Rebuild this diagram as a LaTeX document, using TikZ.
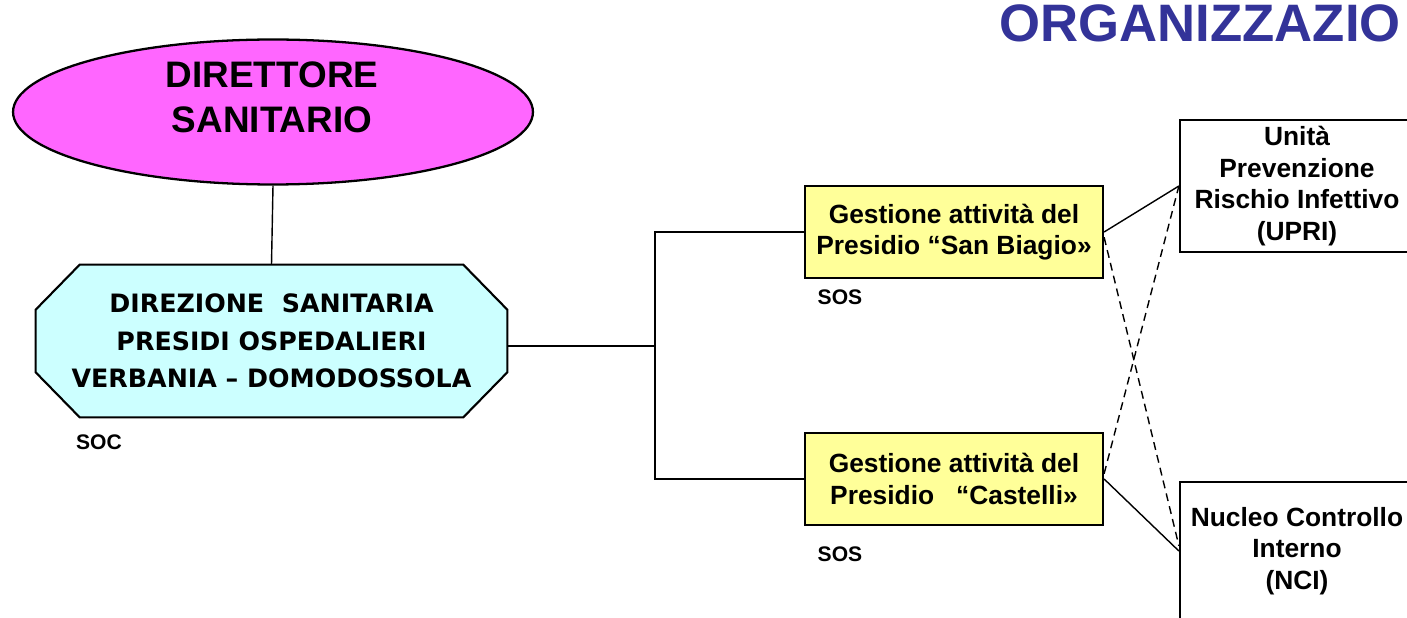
\documentclass[tikz,border=0pt]{standalone}
\usepackage{fontspec}
\setmainfont{Liberation Sans}
\newfontfamily\octfont{DejaVu Sans}
\usepackage{xcolor}
\usepackage{tikz}
\usetikzlibrary{shapes.geometric,arrows.meta,positioning,calc,backgrounds}

\definecolor{dirpink}{HTML}{FF66FF}
\definecolor{dircyan}{HTML}{CCFFFF}
\definecolor{sosyellow}{HTML}{FFFF99}
\definecolor{titleblue}{HTML}{333399}

\begin{document}
\begin{tikzpicture}[
  x=0.02cm, y=-0.02cm,
  ell/.style={ellipse, draw=black, line width=1.3pt, fill=dirpink,
              minimum width=10.4cm, minimum height=2.9cm},
  elltext/.style={align=center, font=\fontsize{21}{25.5}\selectfont\bfseries},
  oct/.style={rectangle, inner sep=0pt, minimum width=9.42cm, minimum height=3.04cm,
              align=center, font=\octfont\bfseries\fontsize{14.4}{21.3}\selectfont},
  octline/.style={draw=black, line width=1.2pt, fill=dircyan},
  sosbox/.style={rectangle, draw=black, line width=1.3pt, fill=sosyellow,
                 minimum width=5.96cm, minimum height=1.84cm, align=center,
                 font=\fontsize{15}{18}\selectfont\bfseries},
  unitbox/.style={rectangle, draw=black, line width=1.3pt, fill=white,
                  minimum width=4.68cm, align=center,
                  font=\fontsize{15}{18}\selectfont\bfseries},
  tag/.style={font=\fontsize{12}{14}\selectfont\bfseries},
  link/.style={line width=0.8pt},
  dlink/.style={line width=0.8pt, dash pattern=on 4.5pt off 3pt}
]
  \useasboundingbox (0,0) rectangle (1407,618);
  \clip (0,0) rectangle (1407,618);

  \node[anchor=base east, inner sep=0pt, text=titleblue,
        font=\fontsize{30}{36}\selectfont\bfseries] (title) at (1401,42) {ORGANIZZAZIO};

  \node[ell] (dirsan) at (273,112) {};
  \node[elltext] (dirsantxt) at (272,97) {DIRETTORE\\SANITARIO};

  \node[oct] (dirpo) at (271.5,341) {DIREZIONE\ \ SANITARIA\\PRESIDI OSPEDALIERI\\VERBANIA – DOMODOSSOLA};
  \begin{scope}[on background layer]
    \filldraw[octline] ($(dirpo.north west)+(44,0)$) -- ($(dirpo.north east)+(-44,0)$)
      -- ($(dirpo.north east)+(0,45)$) -- ($(dirpo.south east)+(0,-45)$)
      -- ($(dirpo.south east)+(-44,0)$) -- ($(dirpo.south west)+(44,0)$)
      -- ($(dirpo.south west)+(0,-45)$) -- ($(dirpo.north west)+(0,45)$) -- cycle;
  \end{scope}
  \node[tag] (soc) at (99,442) {SOC};

  \node[sosbox] (sb) at (954,232) {Gestione attività del\\Presidio ``San Biagio\guillemotright};
  \node[sosbox] (ca) at (954,479) {Gestione attività del\\Presidio \ \ ``Castelli\guillemotright};
  \node[tag] (sos1) at (840,297) {SOS};
  \node[tag] (sos2) at (840,554) {SOS};

  \node[unitbox, minimum height=2.56cm] (upri) at (1297,186) {Unità\\Prevenzione\\Rischio Infettivo\\(UPRI)};
  \node[unitbox, minimum height=2.76cm] (nci) at (1297,551) {Nucleo Controllo\\Interno\\(NCI)};

  % links
  \draw[link] (dirsan.south) -- (dirpo.north);
  \coordinate (fork) at (655,346);
  \draw[link] (dirpo.east |- fork) -- (fork);
  \draw[link] (fork) |- (sb.west);
  \draw[link] (fork) |- (ca.west);

  \draw[link] (sb.east) -- (upri.west);
  \draw[link] (ca.east) -- (nci.west);
  \draw[dlink] ([yshift=-3pt]sb.east) -- ([yshift=3pt]nci.west);
  \draw[dlink] ([yshift=3pt]ca.east) -- (upri.west);
\end{tikzpicture}
\end{document}
